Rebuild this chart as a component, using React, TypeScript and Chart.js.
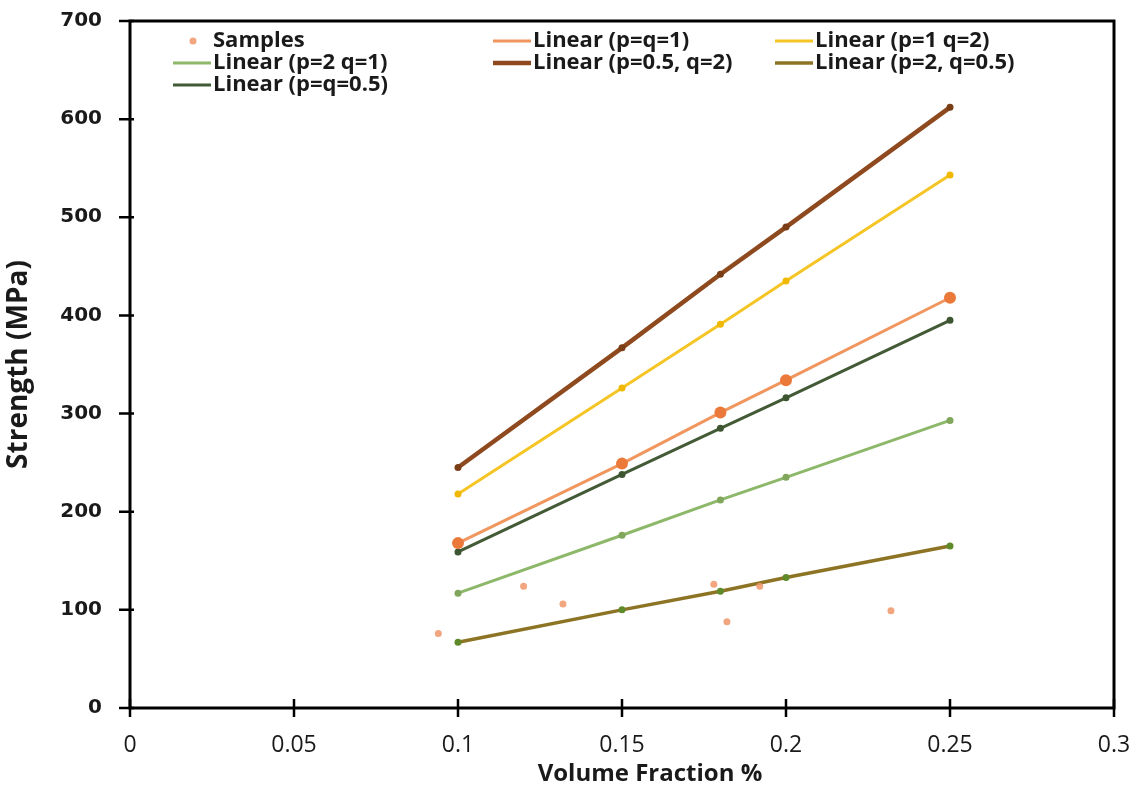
import React, { useEffect, useRef } from 'react';
import { Chart, registerables } from 'chart.js';
Chart.register(...registerables);

// ---- data ----
const fractions = [0.1, 0.15, 0.18, 0.2, 0.25];
const sampleX = [0.094, 0.12, 0.132, 0.178, 0.182, 0.192, 0.232];
const sampleY = [76, 124, 106, 126, 88, 124, 99];
const linPq1 = [168, 249, 301, 334, 418];
const linP1q2 = [218, 326, 391, 435, 543];
const linP2q1 = [117, 176, 212, 235, 293];
const linP05q2 = [245, 367, 442, 490, 612];
const linP2q05 = [67, 100, 119, 133, 165];
const linPq05 = [159, 238, 285, 316, 395];
const xTickLabels = ['0', '0.05', '0.1', '0.15', '0.2', '0.25', '0.3'];
const yTickLabels = ['0', '100', '200', '300', '400', '500', '600', '700'];
const xAxisTitle = 'Volume Fraction %';
const yAxisTitle = 'Strength (MPa)';
const seriesLabels = [
  'Samples',
  'Linear (p=q=1)',
  'Linear (p=1 q=2)',
  'Linear (p=2 q=1)',
  'Linear (p=0.5, q=2)',
  'Linear (p=2, q=0.5)',
  'Linear (p=q=0.5)',
];

const pts = (ys: number[]) => fractions.map((x, i) => ({ x, y: ys[i] }));

const framePlugin = {
  id: 'frameTicks',
  afterDraw(chart: any) {
    const { ctx, chartArea: a, scales } = chart;
    ctx.save();
    ctx.strokeStyle = '#000';
    ctx.lineWidth = 3;
    ctx.strokeRect(a.left, a.top, a.right - a.left, a.bottom - a.top);
    ctx.lineWidth = 2.5;
    ctx.beginPath();
    scales.x.ticks.forEach((t: any) => {
      const px = scales.x.getPixelForValue(t.value);
      ctx.moveTo(px, a.bottom - 9);
      ctx.lineTo(px, a.bottom + 9);
    });
    scales.y.ticks.forEach((t: any) => {
      const py = scales.y.getPixelForValue(t.value);
      ctx.moveTo(a.left - 11, py);
      ctx.lineTo(a.left + 4, py);
    });
    ctx.stroke();
    // x axis title (slightly right of centre, as in the original)
    ctx.fillStyle = '#1a1a1a';
    ctx.font = 'bold 24px "Open Sans"';
    ctx.textAlign = 'center';
    ctx.textBaseline = 'middle';
    ctx.fillText(xAxisTitle, (a.left + a.right) / 2 + 28, 774);
    ctx.restore();
  },
};

const legendPlugin = {
  id: 'customLegend',
  afterDraw(chart: any) {
    const { ctx, chartArea: a } = chart;
    const colX = [43, 363, 645];
    const rowY = [20, 42, 64];
    ctx.save();
    ctx.font = 'bold 22px "Open Sans"';
    ctx.textBaseline = 'middle';
    ctx.textAlign = 'left';
    chart.data.datasets.forEach((ds: any, i: number) => {
      const x = a.left + colX[i % 3];
      const y = a.top + rowY[Math.floor(i / 3)];
      if (ds.showLine === false) {
        ctx.fillStyle = ds.pointBackgroundColor;
        ctx.beginPath();
        ctx.arc(x + 20, y, 3.5, 0, Math.PI * 2);
        ctx.fill();
      } else {
        ctx.strokeStyle = ds.borderColor;
        ctx.lineWidth = ds.borderWidth;
        ctx.beginPath();
        ctx.moveTo(x, y);
        ctx.lineTo(x + 38, y);
        ctx.stroke();
      }
      ctx.fillStyle = '#1a1a1a';
      ctx.fillText(ds.label, x + 40, y);
    });
    ctx.restore();
  },
};

function lineDs(label: string, data: number[], line: string, marker: string, width: number, radius: number) {
  return {
    label,
    data: pts(data),
    showLine: true,
    borderColor: line,
    borderWidth: width,
    pointBackgroundColor: marker,
    pointBorderColor: marker,
    pointRadius: radius,
    pointBorderWidth: 0,
    tension: 0,
  };
}

export default function App() {
  const ref = useRef<HTMLCanvasElement>(null);
  useEffect(() => {
    document.body.style.margin = '0';
    const chart = new Chart(ref.current!, {
      type: 'scatter',
      data: {
        datasets: [
          {
            label: seriesLabels[0],
            data: sampleX.map((x, i) => ({ x, y: sampleY[i] })),
            showLine: false,
            pointBackgroundColor: 'rgba(240,150,105,0.85)',
            pointBorderColor: 'rgba(240,150,105,0.85)',
            pointRadius: 3.5,
            pointBorderWidth: 0,
          } as any,
          lineDs(seriesLabels[1], linPq1, '#F0965E', '#EB7A3A', 3, 6),
          lineDs(seriesLabels[2], linP1q2, '#F5C526', '#F0B800', 3, 3.5),
          lineDs(seriesLabels[3], linP2q1, '#8DB86A', '#7FA65A', 3, 3.5),
          lineDs(seriesLabels[4], linP05q2, '#8E4A1E', '#7A3E16', 4.5, 3.5),
          lineDs(seriesLabels[5], linP2q05, '#8C7424', '#5F8A2A', 3.5, 3.5),
          lineDs(seriesLabels[6], linPq05, '#435A36', '#3E5532', 3, 3.5),
        ],
      },
      options: {
        animation: false,
        responsive: false,
        maintainAspectRatio: false,
        layout: { autoPadding: false, padding: { top: 21, right: 30, left: 0, bottom: 0 } },
        plugins: { legend: { display: false }, tooltip: { enabled: false } },
        scales: {
          x: {
            type: 'linear',
            min: 0,
            max: 0.3,
            ticks: {
              stepSize: 0.05,
              padding: 24,
              color: '#1a1a1a',
              font: { family: '"Open Sans"', size: 23 },
              callback: (_v: any, i: number) => xTickLabels[i],
              maxRotation: 0,
            },
            grid: { display: false, drawTicks: false },
            border: { display: false },
            title: { display: false },
            afterFit: (s: any) => {
              s.height = 83;
              s.paddingLeft = 0;
              s.paddingRight = 0;
              s.paddingTop = 0;
              s.paddingBottom = 0;
            },
          },
          y: {
            type: 'linear',
            min: 0,
            max: 700,
            ticks: {
              stepSize: 100,
              padding: 28,
              color: '#1a1a1a',
              font: { family: '"DejaVu Sans"', size: 20, weight: 'bold' },
              callback: (_v: any, i: number) => yTickLabels[i],
            },
            grid: { display: false, drawTicks: false },
            border: { display: false },
            title: {
              display: true,
              text: yAxisTitle,
              color: '#1a1a1a',
              font: { family: '"Open Sans"', size: 28, weight: 'bold' },
              padding: { top: 2, bottom: 0 },
            },
            afterFit: (s: any) => {
              s.width = 130;
              s.paddingLeft = 0;
              s.paddingRight = 0;
              s.paddingTop = 0;
              s.paddingBottom = 0;
            },
          },
        },
      },
      plugins: [framePlugin, legendPlugin],
    });
    return () => chart.destroy();
  }, []);
  return (
    <div style={{ width: 1144, height: 791, background: '#fff' }}>
      <canvas ref={ref} width={1144} height={791} />
    </div>
  );
}
